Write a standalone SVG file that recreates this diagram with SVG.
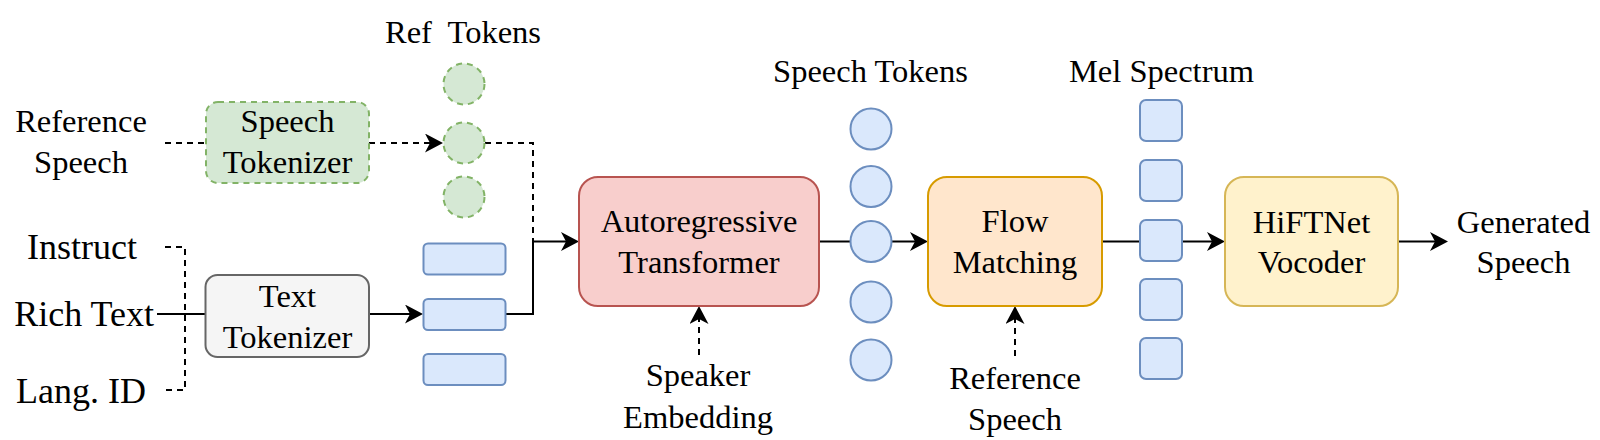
<svg xmlns="http://www.w3.org/2000/svg" width="1600" height="440" viewBox="0 0 1600 440">
<defs>
<marker id="arr" viewBox="0 0 18 19" refX="5" refY="9.5" markerWidth="18" markerHeight="19" markerUnits="userSpaceOnUse" orient="auto">
<path d="M0,0 L18,9.5 L0,19 L5,9.5 Z" fill="#000" stroke="none"/>
</marker>
<style>
text{font-family:"Liberation Serif","Times New Roman",serif;font-size:32.5px;fill:#000;text-anchor:middle}
.big{font-size:36px}
.ln{fill:none;stroke:#000;stroke-width:2}
.dash{stroke-dasharray:6 5}
.green{fill:#d5e8d4;stroke:#82b366;stroke-width:2;stroke-dasharray:6 5}
.blue{fill:#dae8fc;stroke:#6c8ebf;stroke-width:2}
.red{fill:#f8cecc;stroke:#b85450;stroke-width:2}
.orange{fill:#ffe6cc;stroke:#d79b00;stroke-width:2}
.yellow{fill:#fff2cc;stroke:#d6b656;stroke-width:2}
.gray{fill:#f5f5f5;stroke:#666666;stroke-width:2}
</style>
</defs>
<rect width="1600" height="440" fill="#fff"/>

<g id="connectors">
<path class="ln dash" d="M165,143 H206"/>
<path class="ln dash" d="M369,143 H430" marker-end="url(#arr)"/>
<path class="ln dash" d="M485,143 H533 V241.5"/>
<path class="ln dash" d="M165,247 H185 V390 H165"/>
<path class="ln" d="M157,314 H205"/>
<path class="ln" d="M369,314 H410" marker-end="url(#arr)"/>
<path class="ln" d="M506,314 H533 V241.5 H566" marker-end="url(#arr)"/>
<path class="ln" d="M819,241.5 H850.5"/>
<path class="ln" d="M891.5,241.5 H915" marker-end="url(#arr)"/>
<path class="ln" d="M1102,241.5 H1140"/>
<path class="ln" d="M1182,241.5 H1212" marker-end="url(#arr)"/>
<path class="ln" d="M1398,241.5 H1435" marker-end="url(#arr)"/>
<path class="ln dash" d="M699,355 V319" marker-end="url(#arr)"/>
<path class="ln dash" d="M1015,356 V319" marker-end="url(#arr)"/>
</g>

<g id="ref-speech-in">
<text x="81" y="132">Reference</text>
<text x="81" y="173">Speech</text>
</g>
<g id="instruct"><text class="big" x="82" y="259">Instruct</text></g>
<g id="rich-text"><text class="big" x="154" y="326" style="text-anchor:end">Rich Text</text></g>
<g id="lang-id"><text class="big" x="81" y="403">Lang. ID</text></g>

<g id="speech-tokenizer">
<rect class="green" x="206" y="102" width="163" height="81" rx="12"/>
<text x="287.5" y="132">Speech</text>
<text x="287.5" y="173">Tokenizer</text>
</g>
<g id="text-tokenizer">
<rect class="gray" x="205.5" y="275" width="163.5" height="82" rx="12"/>
<text x="287.5" y="307">Text</text>
<text x="287.5" y="348">Tokenizer</text>
</g>

<g id="ref-tokens">
<text x="463" y="43" xml:space="preserve" style="white-space:pre">Ref  Tokens</text>
<circle class="green" cx="464" cy="84" r="20.5"/>
<circle class="green" cx="464" cy="143" r="20.5"/>
<circle class="green" cx="464" cy="197" r="20.5"/>
</g>

<g id="text-tokens">
<rect class="blue" x="423.5" y="243.5" width="82" height="31" rx="4.5"/>
<rect class="blue" x="423.5" y="299" width="82" height="31" rx="4.5"/>
<rect class="blue" x="423.5" y="354" width="82" height="31" rx="4.5"/>
</g>

<g id="ar-transformer">
<rect class="red" x="579" y="177" width="240" height="129" rx="19"/>
<text x="699" y="232">Autoregressive</text>
<text x="699" y="273">Transformer</text>
</g>

<g id="speaker-embedding">
<text x="698" y="386">Speaker</text>
<text x="698" y="428">Embedding</text>
</g>

<g id="speech-tokens">
<text x="870.5" y="82">Speech Tokens</text>
<circle class="blue" cx="871" cy="129" r="20.5"/>
<circle class="blue" cx="871" cy="186.5" r="20.5"/>
<circle class="blue" cx="871" cy="241.5" r="20.5"/>
<circle class="blue" cx="871" cy="302" r="20.5"/>
<circle class="blue" cx="871" cy="360" r="20.5"/>
</g>

<g id="flow-matching">
<rect class="orange" x="928" y="177" width="174" height="129" rx="19"/>
<text x="1015" y="232">Flow</text>
<text x="1015" y="273">Matching</text>
</g>

<g id="ref-speech-flow">
<text x="1015" y="389">Reference</text>
<text x="1015" y="430">Speech</text>
</g>

<g id="mel-spectrum">
<text x="1161.5" y="82">Mel Spectrum</text>
<rect class="blue" x="1140" y="100" width="42" height="41" rx="6"/>
<rect class="blue" x="1140" y="160" width="42" height="41" rx="6"/>
<rect class="blue" x="1140" y="220" width="42" height="41" rx="6"/>
<rect class="blue" x="1140" y="279" width="42" height="41" rx="6"/>
<rect class="blue" x="1140" y="338" width="42" height="41" rx="6"/>
</g>

<g id="hiftnet">
<rect class="yellow" x="1225" y="177" width="173" height="129" rx="19"/>
<text x="1311.5" y="233">HiFTNet</text>
<text x="1311.5" y="273">Vocoder</text>
</g>

<g id="generated-speech">
<text x="1523.5" y="233">Generated</text>
<text x="1523.5" y="273">Speech</text>
</g>
</svg>
